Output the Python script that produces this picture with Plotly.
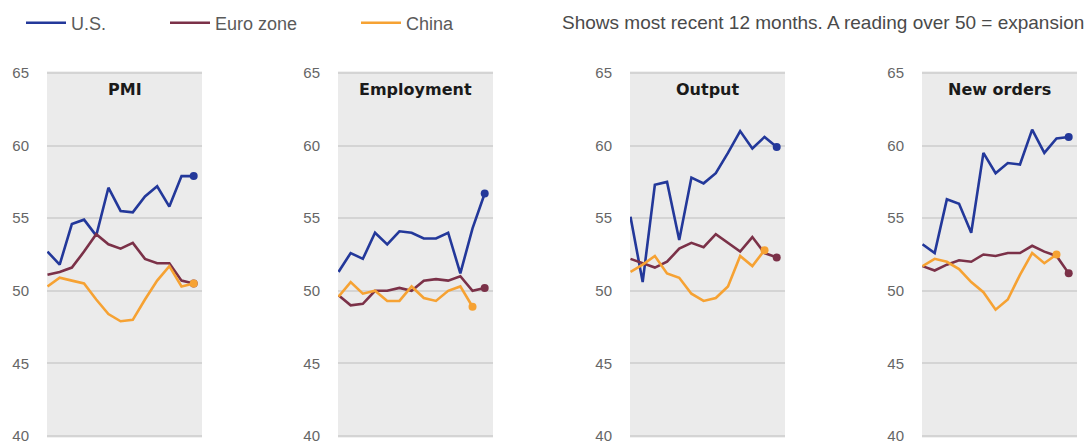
import plotly.graph_objects as go

W, H = 1088, 443

months = list(range(13))  # most recent 12 months (13 monthly readings), index only

panel_titles = ["PMI", "Employment", "Output", "New orders"]
series_names = ["U.S.", "Euro zone", "China"]
series_colors = ["#23389a", "#7b3148", "#f6a233"]

# PMI
us_pmi = [52.7, 51.8, 54.6, 54.9, 53.8, 57.1, 55.5, 55.4, 56.5, 57.2, 55.8, 57.9, 57.9]
ez_pmi = [51.1, 51.3, 51.6, 52.7, 53.9, 53.2, 52.9, 53.3, 52.2, 51.9, 51.9, 50.7, 50.5]
cn_pmi = [50.3, 50.9, 50.7, 50.5, 49.4, 48.4, 47.9, 48.0, 49.4, 50.7, 51.7, 50.3, 50.5]

# Employment
us_emp = [51.3, 52.6, 52.2, 54.0, 53.2, 54.1, 54.0, 53.6, 53.6, 54.0, 51.2, 54.3, 56.7]
ez_emp = [49.7, 49.0, 49.1, 50.0, 50.0, 50.2, 50.0, 50.7, 50.8, 50.7, 51.0, 50.0, 50.2]
cn_emp = [49.6, 50.6, 49.8, 50.0, 49.3, 49.3, 50.3, 49.5, 49.3, 50.0, 50.3, 48.9]

# Output
us_out = [55.1, 50.6, 57.3, 57.5, 53.5, 57.8, 57.4, 58.1, 59.5, 61.0, 59.8, 60.6, 59.9]
ez_out = [52.2, 51.9, 51.6, 52.0, 52.9, 53.3, 53.0, 53.9, 53.3, 52.7, 53.7, 52.6, 52.3]
cn_out = [51.3, 51.8, 52.4, 51.2, 50.9, 49.8, 49.3, 49.5, 50.3, 52.4, 51.7, 52.8]

# New orders
us_new = [53.2, 52.6, 56.3, 56.0, 54.0, 59.5, 58.1, 58.8, 58.7, 61.1, 59.5, 60.5, 60.6]
ez_new = [51.7, 51.4, 51.8, 52.1, 52.0, 52.5, 52.4, 52.6, 52.6, 53.1, 52.7, 52.4, 51.2]
cn_new = [51.7, 52.2, 52.0, 51.5, 50.6, 49.9, 48.7, 49.4, 51.1, 52.6, 51.9, 52.5]

panels = [
    (us_pmi, ez_pmi, cn_pmi),
    (us_emp, ez_emp, cn_emp),
    (us_out, ez_out, cn_out),
    (us_new, ez_new, cn_new),
]

y_ticks = [40, 45, 50, 55, 60, 65]
expansion_level = 50

# layout geometry (pixels)
panel_left_px = [47, 338, 630, 922]
panel_w_px = 155
plot_top_px, plot_bot_px = 71.3, 437.7   # value 65 at ~73px, value 40 at ~436px
legend_x_px = [21, 165, 356]
legend_keys = ["legend", "legend2", "legend3"]

fig = go.Figure()

for p, data in enumerate(panels):
    ax = "" if p == 0 else str(p + 1)
    for s, vals in enumerate(data):
        xs = months[: len(vals)]
        fig.add_trace(go.Scatter(
            x=xs, y=vals, mode="lines",
            line=dict(color=series_colors[s], width=2.6),
            name=series_names[s], legendgroup=series_names[s],
            legend=legend_keys[s], showlegend=(p == 0),
            xaxis="x" + ax, yaxis="y" + ax, hoverinfo="skip",
        ))
        fig.add_trace(go.Scatter(
            x=[xs[-1]], y=[vals[-1]], mode="markers",
            marker=dict(color=series_colors[s], size=8),
            showlegend=False, legendgroup=series_names[s], legend=legend_keys[s],
            xaxis="x" + ax, yaxis="y" + ax, hoverinfo="skip", cliponaxis=False,
        ))
    l = panel_left_px[p] / W
    r = (panel_left_px[p] + panel_w_px) / W
    fig.update_layout(**{
        "xaxis" + ax: dict(domain=[l, r], range=[-0.04, 12.68], visible=False,
                           anchor="y" + ax),
        "yaxis" + ax: dict(domain=[1 - plot_bot_px / H, 1 - plot_top_px / H],
                           range=[39.88, 65.12], tickvals=y_ticks, showgrid=True,
                           gridcolor="#d4d4d4", gridwidth=1.6, zeroline=False,
                           showline=False, ticks="", ticklabelstandoff=17,
                           ticklabeloverflow="allow", automargin=False,
                           tickfont=dict(family="Liberation Sans", size=15, color="#666666"),
                           anchor="x" + ax),
    })
    fig.add_shape(type="line", xref="x" + ax + " domain", yref="y" + ax,
                  x0=0, x1=1, y0=expansion_level, y1=expansion_level,
                  line=dict(color="#6f6f6f", width=1.6), layer="below")
    fig.add_annotation(text="<b>" + panel_titles[p] + "</b>", xref="x" + ax + " domain",
                       yref="y" + ax, x=0.5, y=63.9, showarrow=False,
                       font=dict(family="DejaVu Sans", size=16, color="#1a1a1a"))

fig.add_annotation(text="Shows most recent 12 months. A reading over 50 = expansion",
                   xref="paper", yref="paper", x=1086 / W, y=1 - 22 / H,
                   xanchor="right", yanchor="middle", showarrow=False,
                   font=dict(family="Liberation Sans", size=19, color="#4a4a4a"))

legend_common = dict(orientation="h", yanchor="middle", y=1 - 23 / H, xanchor="left",
                     itemwidth=40, bgcolor="rgba(0,0,0,0)",
                     font=dict(family="Liberation Sans", size=18, color="#5a5a5a"))
fig.update_layout(
    width=W, height=H,
    margin=dict(l=0, r=0, t=0, b=0, autoexpand=False),
    paper_bgcolor="white", plot_bgcolor="#ebebeb",
    showlegend=True,
    legend=dict(x=legend_x_px[0] / W, **legend_common),
    legend2=dict(x=legend_x_px[1] / W, **legend_common),
    legend3=dict(x=legend_x_px[2] / W, **legend_common),
)

fig.write_html("out.html", config={"displayModeBar": False},
               post_script="document.body.style.margin='0';")
